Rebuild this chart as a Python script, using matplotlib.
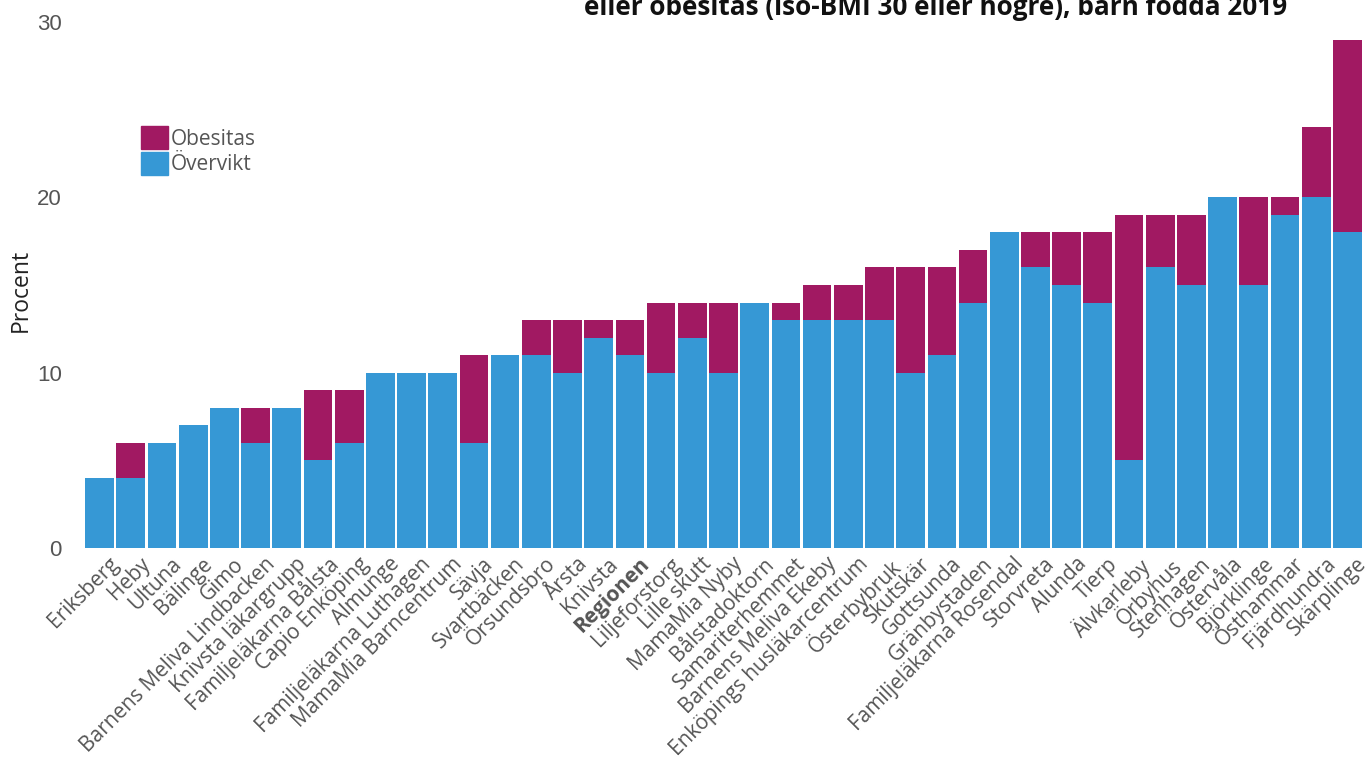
import numpy as np
import matplotlib.pyplot as plt
from matplotlib.patches import Patch
from matplotlib.transforms import ScaledTranslation

# Data (percent)
mottagningar = [
    'Eriksberg', 'Heby', 'Ultuna', 'Bälinge', 'Gimo',
    'Barnens Meliva Lindbacken', 'Knivsta läkargrupp', 'Familjeläkarna Bålsta',
    'Capio Enköping', 'Almunge', 'Familjeläkarna Luthagen', 'MamaMia Barncentrum',
    'Sävja', 'Svartbäcken', 'Örsundsbro', 'Årsta', 'Knivsta', 'Regionen',
    'Liljeforstorg', 'Lille skutt', 'MamaMia Nyby', 'Bålstadoktorn',
    'Samariterhemmet', 'Barnens Meliva Ekeby', 'Enköpings husläkarcentrum',
    'Österbybruk', 'Skutskär', 'Gottsunda', 'Gränbystaden',
    'Familjeläkarna Rosendal', 'Storvreta', 'Alunda', 'Tierp', 'Älvkarleby',
    'Örbyhus', 'Stenhagen', 'Östervåla', 'Björklinge', 'Östhammar',
    'Fjärdhundra', 'Skärplinge',
]
overvikt = [4, 4, 6, 7, 8, 6, 8, 5, 6, 10, 10, 10, 6, 11, 11, 10, 12, 11,
            10, 12, 10, 14, 13, 13, 13, 13, 10, 11, 14, 18, 16, 15, 14, 5,
            16, 15, 20, 15, 19, 20, 18]
totalt = [4, 6, 6, 7, 8, 8, 8, 9, 9, 10, 10, 10, 11, 11, 13, 13, 13, 13,
          14, 14, 14, 14, 14, 15, 15, 16, 16, 16, 17, 18, 18, 18, 18, 19,
          19, 19, 20, 20, 20, 24, 29]
obesitas = [t - o for t, o in zip(totalt, overvikt)]

blue = '#3698d5'
magenta = '#a11962'
grey = '#555555'

fig = plt.figure(figsize=(13.71, 7.58), dpi=100)
ax = fig.add_axes([84 / 1371, 1 - 548 / 758, (1363 - 84) / 1371, (548 - 22) / 758])

x = np.arange(len(mottagningar))
ax.bar(x, overvikt, width=0.92, color=blue, linewidth=0)
ax.bar(x, obesitas, bottom=overvikt, width=0.92, color=magenta, linewidth=0)

ax.set_xlim(-0.5, len(mottagningar) - 0.5)
ax.set_ylim(0, 30)
ax.set_yticks([0, 10, 20, 30])
ax.tick_params(axis='y', length=0, pad=16, labelsize=16, labelcolor=grey)
ax.tick_params(axis='x', length=0, pad=4)
for lbl in ax.get_yticklabels():
    lbl.set_fontfamily('Liberation Sans')

ax.set_xticks(x)
ax.set_xticklabels(mottagningar, rotation=45, ha='right', va='top',
                   rotation_mode='anchor', fontsize=15, color=grey,
                   family='Open Sans')
shift = ScaledTranslation(9 / 100, 0, fig.dpi_scale_trans)
for lbl in ax.get_xticklabels():
    lbl.set_transform(lbl.get_transform() + shift)
    if lbl.get_text() == 'Regionen':
        lbl.set_fontweight('bold')

for s in ax.spines.values():
    s.set_visible(False)

fig.text(21 / 1371, 1 - 290 / 758, 'Procent', rotation=90, ha='center', va='center',
         fontsize=16.5, family='Open Sans', color='#222222')

handles = [Patch(color=magenta, label='Obesitas'), Patch(color=blue, label='Övervikt')]
fig.legend(handles=handles, loc='upper left', bbox_to_anchor=(141 / 1371, 1 - 126 / 758),
           frameon=False, prop={'family': 'Open Sans', 'size': 15},
           handlelength=1.3, handleheight=1.35, handletextpad=0.15,
           labelspacing=0.1, borderpad=0, borderaxespad=0, labelcolor=grey)

fig.text(1287 / 1371, 1 - 15 / 758, 'eller obesitas (iso-BMI 30 eller högre), barn födda 2019',
         ha='right', va='baseline', fontsize=18.8, fontweight='bold',
         family='Open Sans', color='#111111')

fig.savefig('out.png', dpi=100)
